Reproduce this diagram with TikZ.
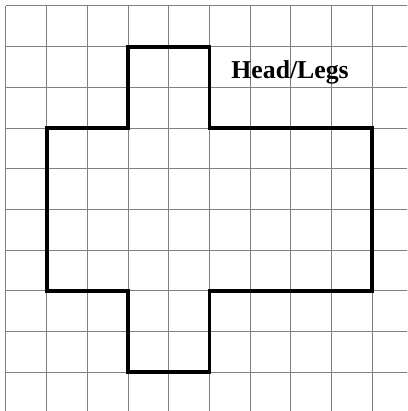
\documentclass[tikz,border=0pt]{standalone}
\usepackage{fontspec}
\setmainfont{Liberation Serif}
\usetikzlibrary{positioning}
\tikzset{
  gridline/.style={draw=black!50, line width=0.7pt},
  outline/.style={draw=black, line width=2.6pt, line join=miter},
  tag/.style={font=\bfseries\fontsize{18}{20}\selectfont, inner sep=0pt}
}
\begin{document}
\begin{tikzpicture}
  \useasboundingbox (-0.147,-0.951) rectangle (9.853,9.147);
  \clip (-0.147,-0.951) rectangle (9.853,9.147);
  % square grid
  \foreach \i in {0,...,9} {
    \draw[gridline] (\i,-1) -- (\i,9);
    \draw[gridline] (0,\i) -- (10,\i);
  }
  % figure outline
  \draw[outline] (3,8) -- (5,8) -- (5,6) -- (9,6) -- (9,2) -- (5,2) -- (5,0)
    -- (3,0) -- (3,2) -- (1,2) -- (1,6) -- (3,6) -- cycle;
  \node[tag] (headlegs) at (6.98,7.37) {Head/Legs};
\end{tikzpicture}
\end{document}
